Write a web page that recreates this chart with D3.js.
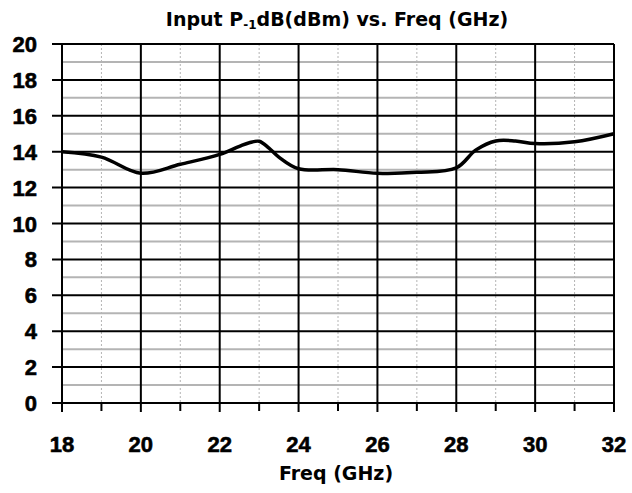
<!DOCTYPE html>
<html>
<head>
<meta charset="utf-8">
<script src="https://cdn.jsdelivr.net/npm/d3@7"></script>
<style>
  body { margin: 0; background: #fff; }
  text { font-family: "Liberation Sans", Arial, sans-serif; font-weight: bold; }
  .tick-label { stroke: #000; stroke-width: 0.6; }
  .title, .xlabel { font-family: "DejaVu Sans", sans-serif; }
</style>
</head>
<body>
<svg id="chart" width="632" height="493"></svg>
<script>
var freq = [18, 19, 20, 21, 22, 22.5, 22.75, 23, 23.25, 23.5, 24, 25, 26, 27, 28, 28.5, 29, 29.5, 30, 31, 32];
var p1db = [14.0, 13.7, 12.8, 13.3, 13.85, 14.3, 14.5, 14.58, 14.2, 13.7, 13.05, 13.0, 12.8, 12.85, 13.1, 14.1, 14.6, 14.6, 14.45, 14.55, 15.0];
var xTicks = [18, 20, 22, 24, 26, 28, 30, 32];
var yTicks = [0, 2, 4, 6, 8, 10, 12, 14, 16, 18, 20];

(function () {
  var svg = d3.select('#chart');
  var plotLeft = 62, plotRight = 614, plotTop = 44, plotBottom = 403;

  var x = d3.scaleLinear().domain([18, 32]).range([plotLeft, plotRight]);
  var y = d3.scaleLinear().domain([0, 20]).range([plotBottom, plotTop]);

  // minor grid
  svg.append('g').selectAll('line').data(d3.range(1, 20, 2)).enter().append('line')
    .attr('x1', plotLeft).attr('x2', plotRight)
    .attr('y1', function (d) { return y(d); }).attr('y2', function (d) { return y(d); })
    .attr('stroke', '#b4b4b4').attr('stroke-width', 2);

  svg.append('g').selectAll('line').data(d3.range(19, 32, 2)).enter().append('line')
    .attr('x1', function (d) { return x(d); }).attr('x2', function (d) { return x(d); })
    .attr('y1', plotTop).attr('y2', plotBottom)
    .attr('stroke', '#b4b4b4').attr('stroke-width', 1).attr('stroke-dasharray', '2,2');

  // major grid
  svg.append('g').selectAll('line').data(yTicks).enter().append('line')
    .attr('x1', plotLeft - 10).attr('x2', plotRight)
    .attr('y1', function (d) { return y(d); }).attr('y2', function (d) { return y(d); })
    .attr('stroke', '#000').attr('stroke-width', 2);

  svg.append('g').selectAll('line').data(xTicks).enter().append('line')
    .attr('x1', function (d) { return x(d); }).attr('x2', function (d) { return x(d); })
    .attr('y1', plotTop).attr('y2', plotBottom + 9)
    .attr('stroke', '#000').attr('stroke-width', 2);

  // minor x ticks below axis
  svg.append('g').selectAll('line').data(d3.range(19, 32, 2)).enter().append('line')
    .attr('x1', function (d) { return x(d); }).attr('x2', function (d) { return x(d); })
    .attr('y1', plotBottom).attr('y2', plotBottom + 8)
    .attr('stroke', '#000').attr('stroke-width', 2);

  // tick labels
  svg.append('g').selectAll('text').data(yTicks).enter().append('text')
    .attr('class', 'tick-label')
    .attr('x', 37).attr('y', function (d) { return y(d) + 8; })
    .attr('text-anchor', 'end').attr('font-size', 22)
    .text(function (d) { return d; });

  svg.append('g').selectAll('text').data(xTicks).enter().append('text')
    .attr('class', 'tick-label')
    .attr('x', function (d) { return x(d); }).attr('y', 452)
    .attr('text-anchor', 'middle').attr('font-size', 22)
    .text(function (d) { return d; });

  // curve
  var line = d3.line()
    .x(function (d) { return x(d[0]); })
    .y(function (d) { return y(d[1]); })
    .curve(d3.curveCatmullRom.alpha(0.5));

  svg.append('path')
    .datum(d3.zip(freq, p1db))
    .attr('d', line)
    .attr('fill', 'none').attr('stroke', '#000').attr('stroke-width', 3.5);

  // title
  var title = svg.append('text').attr('class', 'title')
    .attr('x', 337).attr('y', 26).attr('text-anchor', 'middle').attr('font-size', 19);
  title.append('tspan').text('Input P');
  title.append('tspan').attr('font-size', 12).attr('dy', 3).text('-1');
  title.append('tspan').attr('dy', -3).text('dB(dBm) vs. Freq (GHz)');

  svg.append('text').attr('class', 'xlabel')
    .attr('x', 336).attr('y', 480).attr('text-anchor', 'middle').attr('font-size', 19)
    .text('Freq (GHz)');
})();
</script>
</body>
</html>
